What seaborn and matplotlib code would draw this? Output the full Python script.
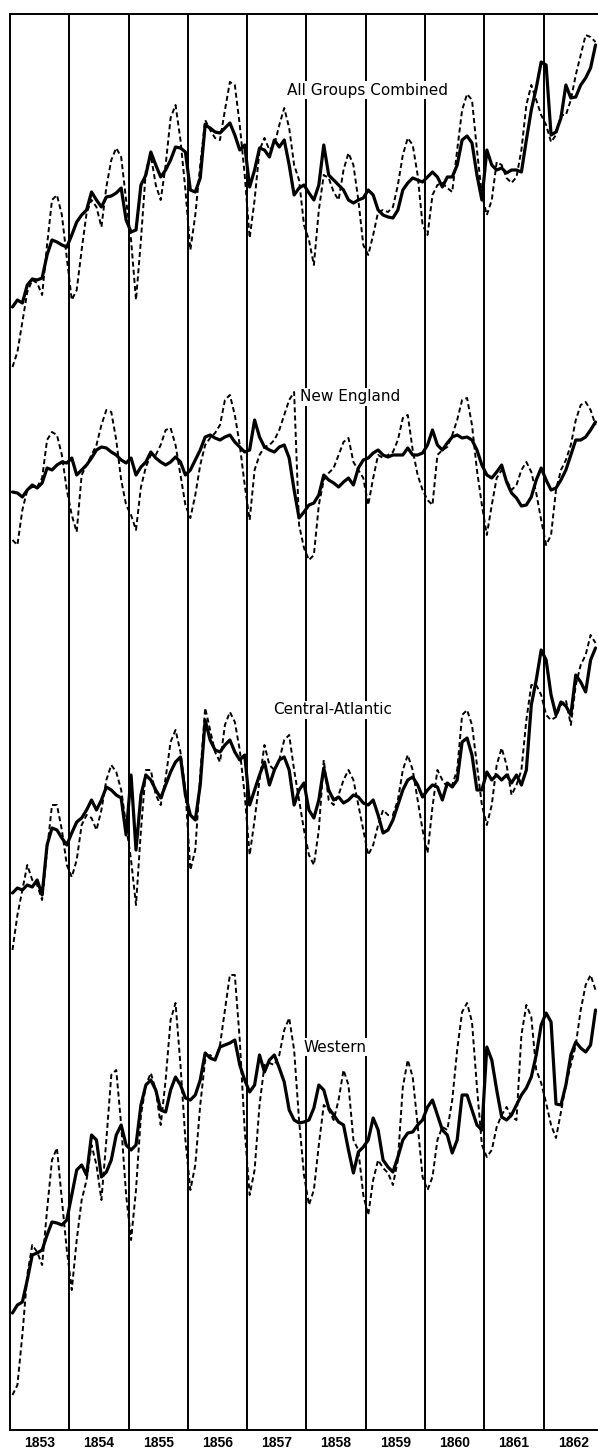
import numpy as np
import pandas as pd
import matplotlib
matplotlib.use("Agg")
import matplotlib.pyplot as plt
import seaborn as sns

# monthly index readings, Jan 1853 onward (chart is cut off in Dec 1862)
years = [str(y) for y in range(1853, 1863)]
panel_names = ["All Groups Combined", "New England", "Central-Atlantic", "Western"]

all_solid = [73, 80, 77, 95, 101, 100, 102, 125, 140, 138, 135, 133,
             145, 158, 165, 170, 188, 180, 173, 183, 184, 187, 192, 160,
             148, 150, 195, 205, 228, 215, 203, 210, 220, 233, 232, 228,
             190, 188, 202, 255, 252, 248, 247, 252, 257, 245, 230, 235,
             193, 210, 232, 230, 223, 240, 233, 240, 215, 185, 192, 195,
             187, 180, 195, 235, 205, 200, 195, 190, 180, 177, 180, 182,
             190, 185, 170, 165, 163, 162, 170, 190, 197, 202, 200, 198,
             203, 208, 203, 193, 203, 203, 215, 240, 244, 237, 205, 180,
             230, 215, 210, 212, 207, 210, 210, 208, 240, 270, 292, 318,
             315, 245, 248, 262, 295, 282, 283, 295, 302, 312, 335]
all_dashed = [13, 28, 58, 88, 100, 97, 85, 135, 180, 185, 165, 122,
              80, 90, 130, 167, 180, 173, 153, 193, 220, 232, 223, 180,
              140, 80, 140, 210, 225, 195, 180, 215, 262, 275, 240, 190,
              130, 165, 215, 260, 250, 242, 240, 270, 298, 295, 255, 205,
              142, 180, 230, 242, 230, 235, 255, 272, 252, 215, 200, 155,
              140, 115, 170, 205, 202, 188, 180, 210, 227, 215, 180, 135,
              125, 145, 168, 170, 168, 173, 195, 225, 242, 235, 205, 155,
              145, 185, 195, 197, 192, 188, 230, 270, 286, 280, 230, 185,
              165, 180, 218, 215, 202, 197, 203, 230, 275, 295, 280, 265,
              255, 238, 245, 265, 265, 280, 305, 325, 345, 343, 338]

ne_solid = [88, 87, 83, 90, 95, 92, 97, 112, 110, 115, 118, 117,
            122, 105, 110, 115, 122, 130, 133, 132, 128, 125, 120, 117,
            122, 105, 113, 118, 128, 122, 118, 115, 118, 123, 118, 105,
            110, 120, 130, 143, 145, 142, 140, 143, 145, 138, 133, 128,
            130, 160, 143, 133, 130, 128, 133, 135, 122, 90, 62, 68,
            75, 77, 85, 105, 100, 97, 93, 98, 102, 95, 112, 120,
            122, 127, 130, 125, 123, 125, 125, 125, 132, 125, 125, 127,
            135, 150, 135, 130, 137, 143, 145, 142, 143, 140, 130, 115,
            105, 102, 108, 115, 98, 87, 82, 74, 75, 83, 100, 112,
            100, 90, 92, 100, 110, 125, 140, 140, 143, 150, 158]
ne_dashed = [40, 35, 70, 90, 93, 93, 102, 140, 148, 145, 125, 90,
             65, 48, 105, 115, 125, 135, 155, 170, 168, 140, 100, 75,
             65, 50, 93, 113, 125, 125, 135, 150, 152, 135, 105, 75,
             62, 85, 115, 135, 142, 147, 155, 180, 185, 165, 135, 95,
             60, 110, 125, 133, 135, 140, 150, 165, 180, 188, 55, 32,
             20, 25, 75, 100, 107, 112, 125, 138, 142, 118, 110, 102,
             75, 102, 125, 122, 125, 128, 140, 162, 165, 130, 105, 90,
             80, 75, 125, 130, 133, 145, 160, 180, 182, 155, 110, 75,
             45, 75, 102, 110, 100, 90, 95, 110, 118, 108, 87, 60,
             35, 45, 90, 110, 120, 135, 160, 175, 178, 170, 155]

ca_solid = [67, 72, 70, 75, 73, 80, 65, 115, 132, 130, 122, 115,
            127, 138, 142, 150, 160, 150, 160, 173, 170, 165, 162, 125,
            185, 110, 165, 185, 180, 170, 162, 175, 188, 198, 203, 165,
            145, 140, 175, 240, 220, 210, 208, 215, 220, 208, 200, 205,
            155, 170, 185, 198, 175, 190, 200, 203, 190, 155, 170, 177,
            150, 142, 160, 192, 170, 160, 163, 157, 160, 165, 163, 157,
            155, 160, 145, 127, 130, 140, 155, 170, 180, 183, 175, 163,
            170, 175, 173, 160, 177, 173, 180, 218, 222, 205, 170, 170,
            188, 180, 185, 180, 185, 177, 185, 175, 190, 255, 280, 310,
            300, 265, 245, 258, 254, 245, 285, 278, 268, 300, 312]
ca_dashed = [10, 45, 70, 95, 80, 75, 60, 110, 155, 155, 130, 95,
             83, 100, 135, 145, 142, 130, 150, 180, 195, 188, 170, 135,
             100, 55, 130, 190, 190, 165, 155, 182, 218, 230, 208, 170,
             90, 110, 185, 252, 230, 208, 198, 235, 248, 238, 210, 165,
             105, 140, 180, 215, 195, 190, 200, 220, 225, 190, 160, 130,
             105, 95, 130, 200, 160, 155, 165, 180, 190, 180, 155, 130,
             105, 115, 135, 150, 145, 145, 160, 190, 205, 190, 160, 130,
             107, 153, 190, 180, 173, 175, 190, 245, 250, 235, 195, 155,
             135, 155, 195, 212, 195, 165, 175, 190, 240, 275, 275, 265,
             245, 240, 243, 255, 260, 235, 275, 295, 305, 325, 317]

we_solid = [107, 115, 118, 140, 165, 167, 170, 185, 198, 197, 195, 200,
            225, 250, 255, 245, 285, 280, 243, 248, 260, 285, 295, 275,
            270, 275, 315, 335, 340, 330, 310, 308, 330, 343, 335, 322,
            320, 325, 340, 367, 362, 360, 373, 375, 377, 380, 355, 340,
            328, 335, 365, 348, 360, 365, 352, 338, 310, 300, 297, 298,
            300, 312, 335, 330, 312, 305, 298, 295, 270, 247, 268, 273,
            280, 302, 290, 260, 253, 248, 263, 280, 287, 288, 295, 300,
            313, 320, 305, 290, 285, 267, 280, 325, 325, 310, 295, 290,
            373, 360, 330, 303, 300, 305, 315, 325, 332, 343, 365, 395,
            407, 398, 316, 315, 335, 365, 378, 372, 368, 375, 410]
we_dashed = [25, 35, 85, 145, 175, 168, 155, 210, 260, 272, 220, 170,
             130, 180, 220, 240, 275, 255, 220, 280, 345, 350, 295, 225,
             180, 230, 305, 335, 347, 330, 295, 340, 400, 417, 355, 280,
             230, 255, 315, 360, 365, 360, 375, 410, 445, 445, 380, 290,
             225, 250, 315, 355, 357, 355, 365, 390, 402, 370, 300, 245,
             215, 230, 275, 315, 310, 300, 320, 350, 335, 280, 270, 225,
             205, 240, 260, 252, 247, 235, 260, 333, 360, 343, 295, 243,
             230, 243, 280, 293, 290, 320, 370, 408, 417, 398, 333, 275,
             263, 270, 293, 305, 313, 303, 300, 385, 415, 403, 350, 337,
             317, 295, 282, 308, 335, 355, 375, 410, 435, 445, 430]

# vertical stacking of the four panels on one sheet
offsets = [1050, 850, 470, 10]
label_pos = [(72.4, 1340), (68.8, 1033), (65.2, 720), (65.8, 383)]

series = [(all_solid, all_dashed), (ne_solid, ne_dashed),
          (ca_solid, ca_dashed), (we_solid, we_dashed)]

sns.set_style("white")
plt.rcParams["font.family"] = ["DejaVu Sans"]
plt.rcParams["text.color"] = "black"
plt.rcParams["xtick.color"] = "black"

fig = plt.figure(figsize=(5.98, 14.56), dpi=100)
ax = fig.add_axes([10 / 598, 26 / 1456, 588 / 598, 1416 / 1456])

for (solid, dashed), off in zip(series, offsets):
    df = pd.DataFrame({
        "t": np.arange(len(solid)) + 0.5,
        "solid": np.array(solid) + off,
        "dashed": np.array(dashed) + off,
    })
    sns.lineplot(data=df, x="t", y="dashed", ax=ax, color="black",
                 lw=1.4, linestyle=(0, (2.6, 1.6)))
    sns.lineplot(data=df, x="t", y="solid", ax=ax, color="black",
                 lw=2.3, solid_joinstyle="round")

for k in range(1, 10):
    ax.axvline(12 * k, color="black", lw=1.4, zorder=1)

for name, (tx, ty) in zip(panel_names, label_pos):
    ax.text(tx, ty, name, ha="center", va="center", fontsize=11, color="black",
            bbox=dict(facecolor="white", edgecolor="none", pad=1.0), zorder=5)

ax.set_xlim(0, 119)
ax.set_ylim(0, 1416)
ax.set_xticks([12 * k + 6 for k in range(10)])
ax.set_xticklabels(years, fontsize=10, fontweight="bold", family="Liberation Sans")
ax.tick_params(axis="x", length=0, pad=4, colors="black")
ax.set_yticks([])
ax.set_xlabel("")
ax.set_ylabel("")
for side in ["left", "top", "bottom"]:
    ax.spines[side].set_color("black")
    ax.spines[side].set_linewidth(1.4)
ax.spines["right"].set_visible(False)

fig.savefig("out.png", dpi=100, facecolor="white")
